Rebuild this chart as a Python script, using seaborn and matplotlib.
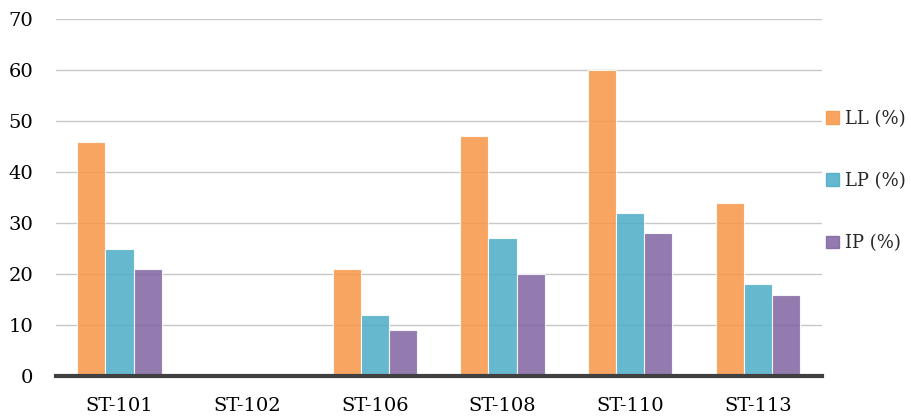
import pandas as pd
import matplotlib
matplotlib.use("Agg")
import matplotlib.pyplot as plt
import seaborn as sns

# values
stations = ["ST-101", "ST-102", "ST-106", "ST-108", "ST-110", "ST-113"]
ll = [46, 0, 21, 47, 60, 34]
lp = [25, 0, 12, 27, 32, 18]
ip = [21, 0, 9, 20, 28, 16]
series = ["LL (%)", "LP (%)", "IP (%)"]

colors = ["#F79646", "#4BACC6", "#8064A2"]

df = pd.DataFrame({"station": stations, series[0]: ll, series[1]: lp, series[2]: ip})
long_df = df.melt(id_vars="station", var_name="param", value_name="value")

sns.set_style("white")
plt.rcParams["font.family"] = ["DejaVu Serif"]

fig = plt.figure(figsize=(9.12, 4.17), dpi=100)
ax = fig.add_axes([0.061, 0.098, 0.84, 0.856])

sns.barplot(data=long_df, x="station", y="value", hue="param", hue_order=series,
            palette=colors, saturation=1, width=0.66, alpha=0.85, edgecolor="white",
            linewidth=0.8, ax=ax, legend=False, zorder=3)

ax.set_ylim(0, 70)
ax.set_xlim(-0.5, 5.5)
ax.set_yticks(range(0, 71, 10))
ax.yaxis.grid(True, color="#c8c8c8", linewidth=1.0, zorder=0)
ax.set_axisbelow(True)
ax.set_xlabel("")
ax.set_ylabel("")
for s in ["top", "right", "left"]:
    ax.spines[s].set_visible(False)
ax.spines["bottom"].set_color("#404040")
ax.spines["bottom"].set_linewidth(3)
ax.spines["bottom"].set_zorder(5)
ax.tick_params(axis="both", length=0, labelsize=14, colors="black")
ax.tick_params(axis="y", pad=16)
ax.tick_params(axis="x", pad=15)

handles = [plt.Rectangle((0, 0), 1, 1, color=c, alpha=0.85) for c in colors]
fig.legend(handles, series, loc="center left", bbox_to_anchor=(0.906, 0.566),
           frameon=False, fontsize=13, handlelength=0.7, handleheight=0.7,
           handletextpad=0.35, labelspacing=2.45, borderpad=0, borderaxespad=0)

fig.savefig("out.png", dpi=100)
